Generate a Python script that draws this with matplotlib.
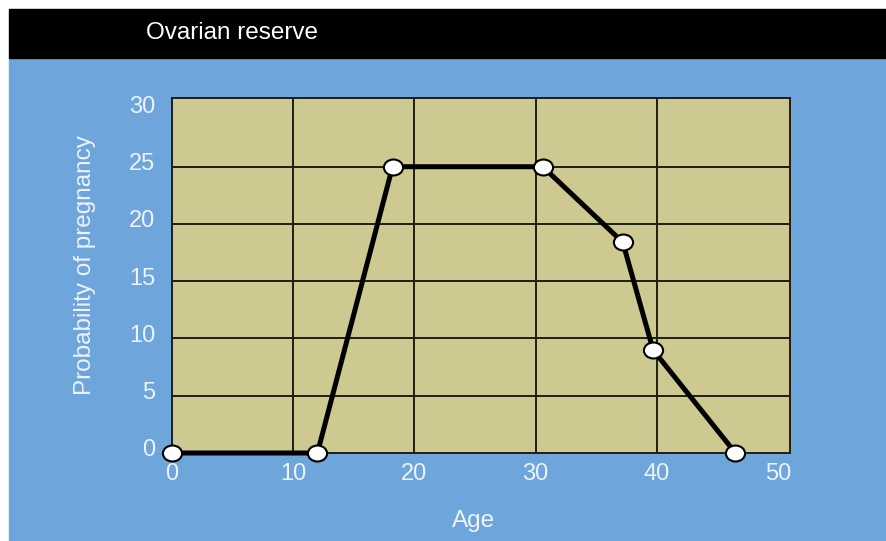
import matplotlib
matplotlib.use('Agg')
import matplotlib.pyplot as plt
from matplotlib.patches import Rectangle
from matplotlib.markers import MarkerStyle
from matplotlib.transforms import Affine2D, ScaledTranslation

# data
age = [0, 12, 18.2, 30.6, 37.2, 39.7, 46.5]
prob = [0, 0, 25, 25, 18.4, 9, 0]
x_ticks = [0, 10, 20, 30, 40, 50]
y_ticks = [0, 5, 10, 15, 20, 25, 30]

W, H = 887, 541
bg_blue = '#6ea5da'
khaki = '#cdc991'
txt = '#eef3fb'
plt.rcParams['font.family'] = ['Liberation Sans', 'DejaVu Sans']

fig = plt.figure(figsize=(W / 100, H / 100), dpi=100)
fig.patch.set_facecolor('white')
fig.add_artist(Rectangle((9 / W, 0), 1 - 9 / W, (H - 58) / H,
                         transform=fig.transFigure, color=bg_blue, zorder=-2))
fig.add_artist(Rectangle((9 / W, (H - 58) / H), 1 - 9 / W, 49 / H,
                         transform=fig.transFigure, color='black', zorder=-2))
fig.text(146 / W, 1 - 33 / H, 'Ovarian reserve', color='white',
         fontsize=17.5, va='center', ha='left')

ax = fig.add_axes([172 / W, (H - 453) / H, (790 - 172) / W, (453 - 98) / H])
ax.set_zorder(1)
ax.set_facecolor(khaki)
ax.set_xlim(0, 51)
ax.set_ylim(0, 31)
ax.set_xticks(x_ticks)
ax.set_yticks(y_ticks)
for t in x_ticks[1:-1]:
    ax.axvline(t, color='#1e1e14', lw=1.4, zorder=1)
for t in y_ticks[1:-1]:
    ax.axhline(t, color='#1e1e14', lw=1.4, zorder=1)
for s in ax.spines.values():
    s.set_color('#1e1e14')
    s.set_linewidth(1.4)
ax.tick_params(length=0, labelsize=17, labelcolor=txt)
ax.tick_params(axis='x', pad=7)
ax.tick_params(axis='y', pad=12)
# labels in the original sit a little above their grid lines
for lab in ax.get_yticklabels():
    lab.set_transform(lab.get_transform() +
                      ScaledTranslation(0, 0.05, fig.dpi_scale_trans))

oval = MarkerStyle('o', transform=Affine2D().scale(1.2, 1.0))
ax.plot(age, prob, color='black', lw=3.6, zorder=3, clip_on=False,
        marker=oval, markersize=11.5, markerfacecolor='white',
        markeredgecolor='black', markeredgewidth=1.5)

fig.text(85 / W, 1 - 265 / H, 'Probability of pregnancy', color=txt,
         fontsize=17.5, rotation=90, ha='center', va='center')
fig.text(474 / W, 1 - 521 / H, 'Age', color=txt, fontsize=17.5,
         ha='center', va='center')

fig.savefig('out.png', dpi=100)
